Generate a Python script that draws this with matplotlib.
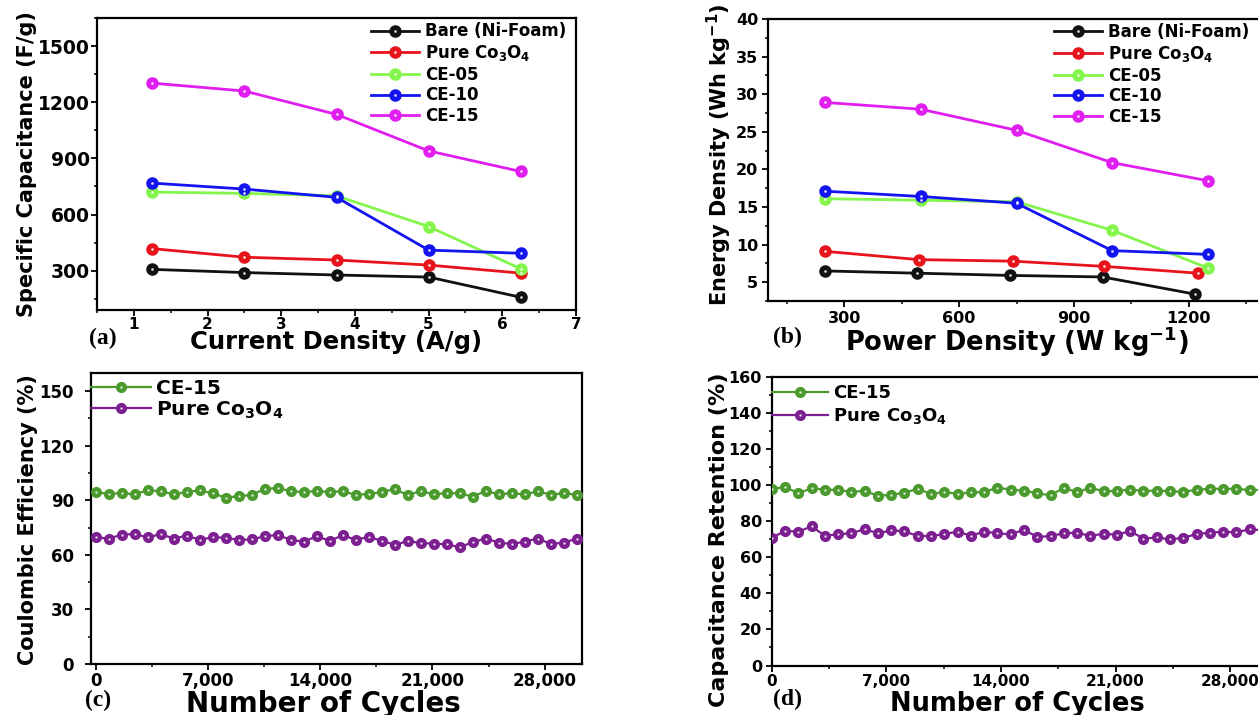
import matplotlib.pyplot as plt
import numpy as np
from matplotlib.ticker import MultipleLocator, FuncFormatter

plt.rcParams['font.family'] = 'DejaVu Sans'
plt.rcParams['font.weight'] = 'bold'
plt.rcParams['mathtext.default'] = 'bf'
plt.rcParams['axes.linewidth'] = 1.6

# (a) specific capacitance vs current density
current_density = [1.25, 2.5, 3.75, 5.0, 6.25]
cap_bare = [307, 290, 277, 266, 158]
cap_co3o4 = [418, 372, 357, 330, 287]
cap_ce05 = [720, 713, 700, 536, 310]
cap_ce10 = [768, 736, 692, 410, 393]
cap_ce15 = [1302, 1260, 1135, 940, 830]

# (b) Ragone data
power_bare = [248, 490, 732, 975, 1218]
power_co3o4 = [250, 495, 740, 980, 1225]
power_ce = [250, 500, 750, 1000, 1250]
energy_bare = [6.5, 6.2, 5.9, 5.7, 3.4]
energy_co3o4 = [9.1, 8.0, 7.8, 7.1, 6.2]
energy_ce05 = [16.1, 15.9, 15.7, 11.9, 6.9]
energy_ce10 = [17.1, 16.4, 15.5, 9.2, 8.7]
energy_ce15 = [28.9, 28.0, 25.2, 20.9, 18.5]

# (c), (d) cycling
cycles = np.linspace(0, 30000, 38)
ce_ce15 = [94.5, 93.5, 94, 93.3, 95.5, 95, 93.3, 94.5, 95.5, 93.8,
           91.5, 92.2, 93, 96.2, 96.8, 95, 94.5, 95.2, 94.5, 95,
           93, 93.5, 94.5, 96.2, 92.8, 95.2, 93.2, 94, 93.8, 92,
           95.2, 93.2, 94, 93.2, 95, 93, 94, 93]
ce_co3o4 = [69.6, 69, 71, 71.6, 69.6, 71.4, 69, 70.5, 68.4, 69.6,
            69.5, 68.2, 68.5, 70.2, 71, 68.2, 67.3, 70.2, 67.8, 70.7,
            68.4, 69.8, 67.8, 65.5, 67.6, 66.5, 66.2, 65.8, 64.2, 67,
            69, 66.7, 66, 67.3, 69, 66, 66.7, 69]
ret_ce15 = [98, 99, 95.7, 98.3, 97.7, 97.5, 96.4, 97, 94.2, 94.8,
            95.9, 98.1, 95.2, 96.4, 95.2, 96.1, 96.3, 98.7, 97.7, 97,
            95.7, 94.4, 98.7, 96.1, 98.8, 96.6, 97, 97.6, 97, 97,
            96.8, 96.4, 97.6, 98.1, 98.1, 98.1, 97.4, 97.5]
ret_co3o4 = [70.8, 74.8, 74.3, 77.2, 72.1, 72.8, 73.4, 75.7, 73.4, 75,
             74.5, 71.9, 71.9, 73, 74.3, 72.1, 74.3, 73.4, 72.8, 75.4,
             71.3, 71.9, 73.4, 73.7, 71.9, 73.2, 72.6, 74.6, 70.4, 71.1,
             70, 70.9, 73, 73.7, 74.3, 73.9, 75.7, 75]

BLACK = '#111111'
RED = '#e8141c'
LGREEN = '#84f54c'
BLUE = '#1414f0'
MAGENTA = '#e01ef0'
DGREEN = '#4b9a2e'
PURPLE = '#7c1f90'

W, H = 1258, 715
fig = plt.figure(figsize=(W / 100, H / 100), dpi=100)


def box(l, t, r, b):
    return [l / W, 1 - b / H, (r - l) / W, (b - t) / H]


def ball(ax, x, y, color, ms, lw, label):
    line, = ax.plot(x, y, '-o', color=color, lw=lw, ms=ms, mfc=color,
                    mec=color, label=label, zorder=3)
    dot, = ax.plot(x, y, 'o', color='white', ms=ms * 0.24, mew=0,
                   alpha=0.85, zorder=4)
    return (line, dot)


def style(ax, xsize, ysize, xpad, ypad):
    for s in ax.spines.values():
        s.set_linewidth(1.6)
    ax.tick_params(which='both', direction='out', top=False, right=False)
    ax.tick_params(which='major', length=4, width=1.3)
    ax.tick_params(which='minor', length=2.5, width=1.1)
    ax.tick_params(axis='x', labelsize=xsize, pad=xpad)
    ax.tick_params(axis='y', labelsize=ysize, pad=ypad)
    for t in ax.get_xticklabels() + ax.get_yticklabels():
        t.set_fontweight('bold')


def legend(ax, h, x, y, size, hlen, tpad, spacing):
    ax.legend(h, [l[0].get_label() for l in h], loc='upper left',
              bbox_to_anchor=(x, y), frameon=False, fontsize=size,
              borderpad=0, borderaxespad=0, handlelength=hlen,
              handletextpad=tpad, labelspacing=spacing)


thousands = FuncFormatter(lambda v, p: f'{int(v):,}')
co3o4_label = 'Pure Co$_3$O$_4$'

# ---- (a)
ax = fig.add_axes(box(97, 18, 576, 310))
h = [ball(ax, current_density, cap_bare, BLACK, 8, 2, 'Bare (Ni-Foam)'),
     ball(ax, current_density, cap_co3o4, RED, 8, 2, co3o4_label),
     ball(ax, current_density, cap_ce05, LGREEN, 8, 2, 'CE-05'),
     ball(ax, current_density, cap_ce10, BLUE, 8, 2, 'CE-10'),
     ball(ax, current_density, cap_ce15, MAGENTA, 8, 2, 'CE-15')]
ax.set_xlim(0.5, 7)
ax.set_ylim(90, 1650)
ax.xaxis.set_major_locator(MultipleLocator(1))
ax.xaxis.set_minor_locator(MultipleLocator(0.5))
ax.yaxis.set_major_locator(MultipleLocator(300))
ax.yaxis.set_minor_locator(MultipleLocator(150))
style(ax, 11, 13.5, 1, 1)
ax.set_xlabel('Current Density (A/g)', fontsize=17.5, fontweight='bold')
ax.set_ylabel('Specific Capacitance (F/g)', fontsize=15, fontweight='bold')
ax.xaxis.set_label_coords(0.5, -0.068)
ax.yaxis.set_label_coords(-0.125, 0.5)
legend(ax, h, 0.572, 0.985, 12, 2.9, 0.35, 0.16)

# ---- (b)
ax = fig.add_axes(box(768, 19, 1265, 301))
h = [ball(ax, power_bare, energy_bare, BLACK, 8, 2, 'Bare (Ni-Foam)'),
     ball(ax, power_co3o4, energy_co3o4, RED, 8, 2, co3o4_label),
     ball(ax, power_ce, energy_ce05, LGREEN, 8, 2, 'CE-05'),
     ball(ax, power_ce, energy_ce10, BLUE, 8, 2, 'CE-10'),
     ball(ax, power_ce, energy_ce15, MAGENTA, 8, 2, 'CE-15')]
ax.set_xlim(100, 1400)
ax.set_ylim(2.5, 40)
ax.xaxis.set_major_locator(MultipleLocator(300))
ax.xaxis.set_minor_locator(MultipleLocator(150))
ax.yaxis.set_major_locator(MultipleLocator(5))
ax.yaxis.set_minor_locator(MultipleLocator(2.5))
style(ax, 11.5, 11.5, 3, 3)
ax.set_xlabel('Power Density (W kg$^{-1}$)', fontsize=18.5,
              fontweight='bold')
ax.set_ylabel('Energy Density (Wh kg$^{-1}$)', fontsize=15,
              fontweight='bold')
ax.xaxis.set_label_coords(0.5, -0.085)
ax.yaxis.set_label_coords(-0.068, 0.52)
legend(ax, h, 0.575, 0.985, 12, 2.9, 0.35, 0.16)

# ---- (c)
ax = fig.add_axes(box(90.7, 373, 581.7, 664))
h = [ball(ax, cycles, ce_ce15, DGREEN, 7, 1.6, 'CE-15'),
     ball(ax, cycles, ce_co3o4, PURPLE, 7, 1.6, co3o4_label)]
ax.set_xlim(-300, 30300)
ax.set_ylim(0, 160)
ax.xaxis.set_major_locator(MultipleLocator(7000))
ax.xaxis.set_minor_locator(MultipleLocator(3500))
ax.xaxis.set_major_formatter(thousands)
ax.yaxis.set_major_locator(MultipleLocator(30))
ax.yaxis.set_minor_locator(MultipleLocator(15))
style(ax, 12, 12, 2, 8)
ax.set_xlabel('Number of Cycles', fontsize=20, fontweight='bold')
ax.set_ylabel('Coulombic Efficiency (%)', fontsize=15, fontweight='bold')
ax.xaxis.set_label_coords(0.474, -0.088)
ax.yaxis.set_label_coords(-0.108, 0.495)
legend(ax, h, 0.0, 0.978, 14.5, 3.0, 0.25, 0.05)

# ---- (d)
ax = fig.add_axes(box(771.7, 377.3, 1263, 665.5))
h = [ball(ax, cycles, ret_ce15, DGREEN, 7, 1.6, 'CE-15'),
     ball(ax, cycles, ret_co3o4, PURPLE, 7, 1.6, co3o4_label)]
ax.set_xlim(0, 30000)
ax.set_ylim(0, 160)
ax.xaxis.set_major_locator(MultipleLocator(7000))
ax.xaxis.set_minor_locator(MultipleLocator(3500))
ax.xaxis.set_major_formatter(thousands)
ax.yaxis.set_major_locator(MultipleLocator(20))
ax.yaxis.set_minor_locator(MultipleLocator(10))
style(ax, 11, 11.5, 2, 3)
ax.set_xlabel('Number of Cycles', fontsize=18.5, fontweight='bold')
ax.set_ylabel('Capacitance Retention (%)', fontsize=16, fontweight='bold')
ax.xaxis.set_label_coords(0.5, -0.088)
ax.yaxis.set_label_coords(-0.086, 0.435)
legend(ax, h, 0.0, 0.976, 13, 3.1, 0.3, 0.2)

# panel letters
for label, x, y in [('(a)', 103, 338), ('(b)', 787, 337),
                    ('(c)', 98, 700), ('(d)', 787, 699)]:
    fig.text(x / W, 1 - y / H, label, ha='center', va='center',
             fontsize=17, fontweight='bold', family='Liberation Serif')

fig.savefig('out.png', dpi=100)
